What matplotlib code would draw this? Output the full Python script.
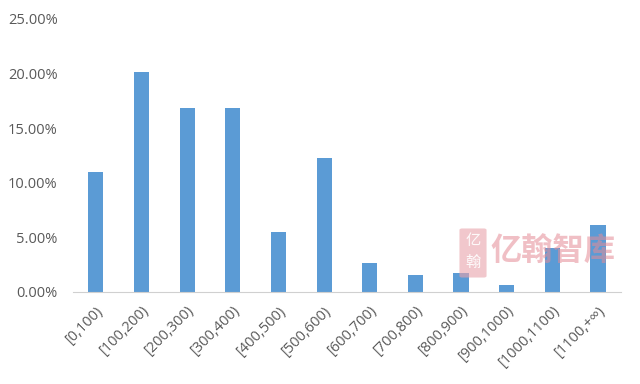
import matplotlib.pyplot as plt
from matplotlib.patches import FancyBboxPatch
from matplotlib.ticker import FuncFormatter
import numpy as np

categories = ['[0,100)', '[100,200)', '[200,300)', '[300,400)', '[400,500)',
              '[500,600)', '[600,700)', '[700,800)', '[800,900)', '[900,1000)',
              '[1000,1100)', '[1100,+∞)']
shares = [11.0, 20.15, 16.85, 16.85, 5.5, 12.25, 2.6, 1.5, 1.75, 0.65, 4.0, 6.1]

plt.rcParams['font.family'] = ['Open Sans', 'DejaVu Sans']

fig = plt.figure(figsize=(6.4, 3.84), dpi=100)
ax = fig.add_axes([0.114, 0.24, 0.856, 0.711])

x = np.arange(len(categories))
ax.bar(x, shares, width=0.33, color='#5B9BD5', zorder=2)

ax.set_xlim(-0.5, len(categories) - 0.5)
ax.set_ylim(0, 25)
ax.set_yticks(np.arange(0, 26, 5))
ax.yaxis.set_major_formatter(FuncFormatter(lambda v, p: f'{v:.2f}%'))
ax.set_xticks(x)
ax.set_xticklabels(categories, rotation=45, ha='right', rotation_mode='anchor')

for s in ['top', 'right', 'left']:
    ax.spines[s].set_visible(False)
ax.spines['bottom'].set_color('#d0d0d0')
ax.tick_params(axis='both', length=0, labelsize=10.5, colors='#595959')
ax.tick_params(axis='y', pad=11)
ax.tick_params(axis='x', pad=8)

# watermark
logo = FancyBboxPatch((462 / 640, 1 - 276 / 384), 22 / 640, 46 / 384,
                      boxstyle='round,pad=0.004', transform=fig.transFigure,
                      facecolor='#e9a3aa', edgecolor='none', alpha=0.6, zorder=5)
fig.patches.append(logo)
fig.text(473 / 640, 1 - 240 / 384, '亿', family=['Noto Sans CJK SC'], fontsize=11,
         color='white', ha='center', va='center', alpha=0.9, zorder=6)
fig.text(473 / 640, 1 - 263 / 384, '翰', family=['Noto Sans CJK SC'], fontsize=11,
         color='white', ha='center', va='center', alpha=0.9, zorder=6)
fig.text(553 / 640, 1 - 252 / 384, '亿翰智库', family=['Noto Sans CJK SC'],
         fontsize=22.5, fontweight='bold', color='#e58c96', alpha=0.55,
         ha='center', va='center', zorder=6)

fig.savefig('out.png', dpi=100)
